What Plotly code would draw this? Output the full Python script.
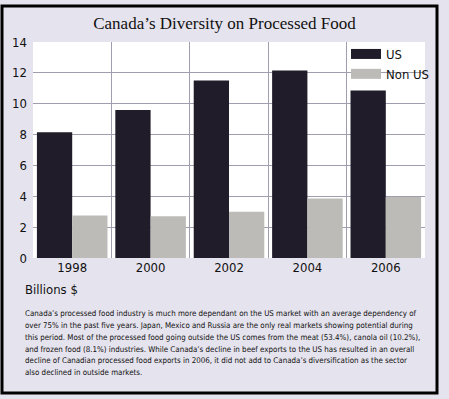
import plotly.graph_objects as go

years = ["1998", "2000", "2002", "2004", "2006"]
us_values = [8.15, 9.6, 11.5, 12.15, 10.85]
non_us_values = [2.75, 2.7, 3.0, 3.85, 3.95]
y_ticks = [0, 2, 4, 6, 8, 10, 12, 14]

paragraph_lines = [
    "Canada’s processed food industry is much more dependant on the US market with an average dependency of",
    "over 75% in the past five years. Japan, Mexico and Russia are the only real markets showing potential during",
    "this period. Most of the processed food going outside the US comes from the meat (53.4%), canola oil (10.2%),",
    "and frozen food (8.1%) industries. While Canada’s decline in beef exports to the US has resulted in an overall",
    "decline of Canadian processed food exports in 2006, it did not add to Canada’s diversification as the sector",
    "also declined in outside markets.",
]

W, H = 449, 399
L, R, T, B = 33, 24, 42, 141
pw = W - L - R
ph = H - T - B

def px(x):
    return (x - L) / pw

def py(y):
    return (H - B - y) / ph

US_COLOR = "#201c2a"
NON_COLOR = "#bcbbb7"
BG = "#e5e3ed"
NARROW = "DejaVu Sans Condensed, Liberation Sans Narrow, sans-serif"

fig = go.Figure()
fig.add_trace(go.Bar(x=years, y=us_values, name="US", marker_color=US_COLOR,
                     marker_line_width=0, showlegend=False))
fig.add_trace(go.Bar(x=years, y=non_us_values, name="Non US", marker_color=NON_COLOR,
                     marker_line_width=0, showlegend=False))
# legend swatches as wide lines
fig.add_trace(go.Scatter(x=[None], y=[None], mode="lines", name="US",
                         line=dict(color=US_COLOR, width=11)))
fig.add_trace(go.Scatter(x=[None], y=[None], mode="lines", name="Non US",
                         line=dict(color=NON_COLOR, width=11)))

annotations = [
    dict(text="Billions $", xref="paper", yref="paper", x=px(23), y=py(289),
         xanchor="left", yanchor="middle", showarrow=False,
         font=dict(family=NARROW, size=13, color="#111")),
]
line_y = [313, 325, 337, 349, 360.5, 372]
for txt, yy in zip(paragraph_lines, line_y):
    annotations.append(dict(text=txt, xref="paper", yref="paper", x=px(23), y=py(yy),
                            xanchor="left", yanchor="middle", showarrow=False,
                            font=dict(family=NARROW, size=7.9, color="#111")))

fig.update_layout(
    width=W, height=H,
    margin=dict(l=L, r=R, t=T, b=B, pad=0),
    paper_bgcolor=BG,
    plot_bgcolor="white",
    barmode="group",
    bargap=0.1,
    bargroupgap=0,
    title=dict(text="Canada’s Diversity on Processed Food",
               font=dict(family="Liberation Serif, DejaVu Serif, serif", size=17, color="#111"),
               x=0.5, xanchor="center", xref="container",
               y=1 - 23 / H, yanchor="middle", yref="container"),
    legend=dict(x=px(346), y=py(39), xanchor="left", yanchor="top",
                bgcolor="rgba(0,0,0,0)", borderwidth=0,
                font=dict(family=NARROW, size=13, color="#111"),
                tracegroupgap=0, itemwidth=30),
    xaxis=dict(type="category", tickson="boundaries", showgrid=True,
               gridcolor="#a09eae", gridwidth=1, ticks="", showline=False,
               tickfont=dict(family=NARROW, size=13, color="#111"),
               fixedrange=True),
    yaxis=dict(range=[0, 14], tickvals=y_ticks, showgrid=True,
               gridcolor="#a09eae", gridwidth=1, zeroline=False, ticks="",
               ticklabelstandoff=5,
               tickfont=dict(family=NARROW, size=13, color="#111"),
               fixedrange=True),
    shapes=[dict(type="rect", xref="paper", yref="paper",
                 x0=px(2), x1=px(437), y0=py(393), y1=py(6),
                 line=dict(color="black", width=3), fillcolor="rgba(0,0,0,0)",
                 layer="above")],
    annotations=annotations,
)

fig.write_html("out.html", config={"displayModeBar": False},
               post_script="document.body.style.margin='0';")
